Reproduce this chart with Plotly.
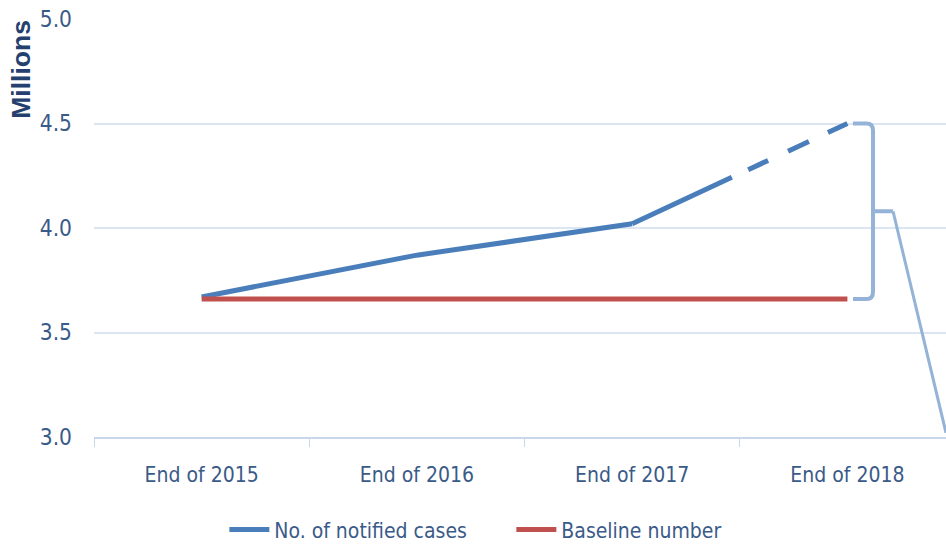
import plotly.graph_objects as go

# ---- data ----
categories = ["End of 2015", "End of 2016", "End of 2017", "End of 2018"]
notified_cases = [3.67, 3.87, 4.02, 4.50]   # millions; last value is projected
baseline_number = [3.66, 3.66, 3.66, 3.66]  # millions
y_ticks = [3.0, 3.5, 4.0, 4.5, 5.0]

BLUE = "#4A7EBB"
RED = "#C0504D"
BRACE = "#95B3D7"
GRID = "#DCE6F2"
TXT = "#3A5A88"
FONT = "DejaVu Sans Condensed, Liberation Sans Narrow, sans-serif"

xs = list(range(len(categories)))

fig = go.Figure()
# observed part
fig.add_trace(go.Scatter(
    x=xs[:3], y=notified_cases[:3], mode="lines",
    line=dict(color=BLUE, width=5), name="No. of notified cases",
    showlegend=True))
# projected part (solid first half then dashes)
fig.add_trace(go.Scatter(
    x=xs[2:], y=notified_cases[2:], mode="lines",
    line=dict(color=BLUE, width=5, dash="110px,18px,22px,22px,23px,21px,30px"),
    name="No. of notified cases (projected)", showlegend=False))
fig.add_trace(go.Scatter(
    x=xs, y=baseline_number, mode="lines",
    line=dict(color=RED, width=5), name="Baseline number"))

# ---- brace annotation between projection and baseline ----
top = notified_cases[-1]
bot = baseline_number[-1]
mid = (top + bot) / 2
x3 = xs[-1]
x0 = x3 + 0.026
xv = x3 + 0.119
xt = x3 + 0.212
rx, ry = 0.03, 0.035
brace = (f"M {x0},{top} L {xv-rx},{top} Q {xv},{top} {xv},{top-ry} "
         f"L {xv},{mid} L {xt},{mid} "
         f"M {xv},{mid} L {xv},{bot+ry} Q {xv},{bot} {xv-rx},{bot} L {x0},{bot}")
fig.add_shape(type="path", path=brace, xref="x", yref="y",
              line=dict(color=BRACE, width=4))
fig.add_shape(type="line", xref="x", yref="y",
              x0=xt, y0=mid, x1=x3 + 0.458, y1=3.02,
              line=dict(color=BRACE, width=3))

# ---- y axis title ----
fig.add_annotation(text="<b>Millions</b>", textangle=-90,
                   xref="paper", yref="paper", x=-0.085, y=0.88,
                   xanchor="center", yanchor="middle", showarrow=False,
                   font=dict(family="Liberation Sans, Arial, sans-serif",
                             size=26.5, color="#24406E"))

fig.update_layout(
    width=946, height=544,
    margin=dict(l=94, r=0, t=19, b=107, autoexpand=False),
    paper_bgcolor="white", plot_bgcolor="white",
    font=dict(family=FONT, size=21, color=TXT),
    xaxis=dict(
        range=[-0.5, 3.458], tickvals=xs, ticktext=categories,
        ticks="", showgrid=False, zeroline=False, automargin=False,
        showline=True, linecolor="#C9D7EA", linewidth=2,
        ticklabelstandoff=18,
        tickfont=dict(family=FONT, size=21, color=TXT),
        minor=dict(tickvals=[-0.5, 0.5, 1.5, 2.5], ticks="outside",
                   ticklen=8, tickcolor="#C9D7EA", tickwidth=1, showgrid=False),
    ),
    yaxis=dict(
        range=[3.0, 5.0], tickvals=y_ticks,
        ticktext=[f"{v:.1f}" for v in y_ticks],
        showgrid=True, gridcolor=GRID, gridwidth=2, zeroline=False,
        automargin=False,
        showline=False, ticks="", ticklabelstandoff=21,
        tickfont=dict(family=FONT, size=22.5, color=TXT),
    ),
    legend=dict(orientation="h", x=0.153, y=-0.222, xanchor="left",
                yanchor="middle", font=dict(family=FONT, size=21, color=TXT),
                bgcolor="rgba(0,0,0,0)", itemwidth=40,
                entrywidth=232, entrywidthmode="pixels"),
    showlegend=True,
)

fig.write_html(
    "out.html",
    config={"displayModeBar": False},
    post_script=(
        "var d=document.getElementById('{plot_id}');"
        "d.style.position='fixed';d.style.left='0px';d.style.top='0px';"
        "document.body.style.margin='0';"
        "document.documentElement.style.overflow='hidden';"
        "document.body.style.overflow='hidden';"
    ),
)
